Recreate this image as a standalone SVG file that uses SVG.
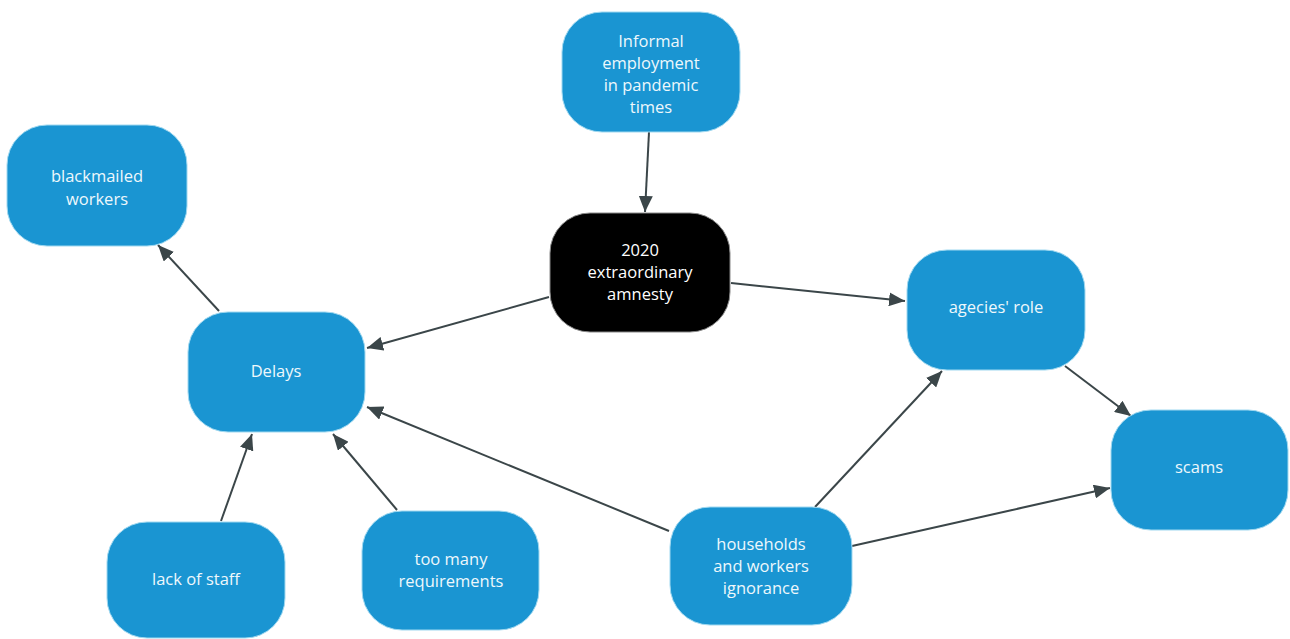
<svg xmlns="http://www.w3.org/2000/svg" width="1290" height="639" viewBox="0 0 1290 639">
<style>
.n{fill:#1a95d2;stroke:#9fd8f0;stroke-width:1}
.k{fill:#000;stroke:#888;stroke-width:1}
.t{font-family:"Open Sans","Liberation Sans",sans-serif;font-size:16.5px;fill:#eef8fc;text-anchor:middle}
.c line{stroke:#3b4649;stroke-width:2;marker-end:url(#ah)}
</style>
<defs>
<marker id="ah" markerUnits="userSpaceOnUse" markerWidth="16" markerHeight="14" viewBox="0 0 16 14" refX="16" refY="7" orient="auto">
<path d="M0,0 L16,7 L0,14 Z" fill="#3b4649"/>
</marker>
</defs>
<g class="c" id="connectors">
<line x1="649" y1="132" x2="645" y2="212"/>
<line x1="549" y1="297" x2="367" y2="348"/>
<line x1="731" y1="283" x2="905" y2="301"/>
<line x1="219" y1="311" x2="158" y2="245"/>
<line x1="221" y1="521" x2="252" y2="434"/>
<line x1="397" y1="510" x2="333" y2="434"/>
<line x1="669" y1="531" x2="367" y2="407"/>
<line x1="815" y1="507" x2="942" y2="371"/>
<line x1="852" y1="546" x2="1110" y2="488"/>
<line x1="1065" y1="366" x2="1131" y2="416"/>
</g>
<g id="informal"><rect class="n" x="562" y="12" width="178" height="120" rx="40"/>
<text class="t" x="651" y="47">Informal</text><text class="t" x="651" y="69">employment</text><text class="t" x="651" y="91">in pandemic</text><text class="t" x="651" y="113">times</text></g>
<g id="blackmailed"><rect class="n" x="7" y="125" width="180" height="121" rx="40"/>
<text class="t" x="97" y="182">blackmailed</text><text class="t" x="97" y="205">workers</text></g>
<g id="amnesty"><rect class="k" x="550" y="213" width="180" height="119" rx="40"/>
<text class="t" x="640" y="256" style="fill:#fff">2020</text><text class="t" x="640" y="278" style="fill:#fff">extraordinary</text><text class="t" x="640" y="300" style="fill:#fff">amnesty</text></g>
<g id="delays"><rect class="n" x="188" y="312" width="177" height="120" rx="40"/>
<text class="t" x="276" y="377">Delays</text></g>
<g id="agencies"><rect class="n" x="907" y="250" width="178" height="120" rx="40"/>
<text class="t" x="996" y="313">agecies' role</text></g>
<g id="scams"><rect class="n" x="1111" y="410" width="177" height="120" rx="40"/>
<text class="t" x="1199" y="473">scams</text></g>
<g id="lackofstaff"><rect class="n" x="107" y="522" width="178" height="116" rx="40"/>
<text class="t" x="196" y="585">lack of staff</text></g>
<g id="requirements"><rect class="n" x="362" y="511" width="177" height="119" rx="40"/>
<text class="t" x="451" y="565">too many</text><text class="t" x="451" y="587">requirements</text></g>
<g id="ignorance"><rect class="n" x="670" y="507" width="182" height="118" rx="40"/>
<text class="t" x="761" y="550">households</text><text class="t" x="761" y="572">and workers</text><text class="t" x="761" y="594">ignorance</text></g>
</svg>
